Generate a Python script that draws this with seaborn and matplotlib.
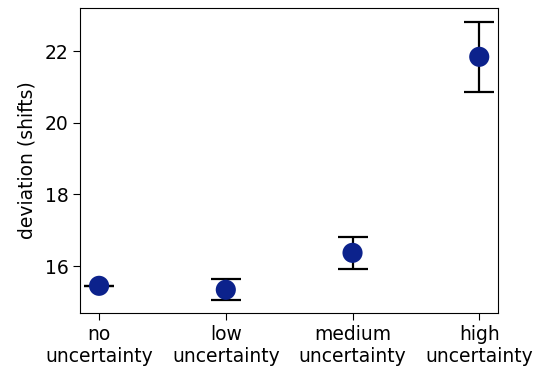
import matplotlib
matplotlib.use('Agg')
import matplotlib.pyplot as plt
import seaborn as sns
import pandas as pd

# values
conditions = ['no\nuncertainty', 'low\nuncertainty', 'medium\nuncertainty', 'high\nuncertainty']
deviation = [15.45, 15.34, 16.37, 21.84]
err = [0.0, 0.29, 0.44, 0.98]

df = pd.DataFrame({'condition': conditions, 'deviation': deviation, 'err': err})

plt.rcParams['font.family'] = ['DejaVu Sans']
fig, ax = plt.subplots(figsize=(5.41, 3.67), dpi=100)
fig.subplots_adjust(left=0.148, right=0.921, top=0.978, bottom=0.147)

ax.errorbar(df['condition'], df['deviation'], yerr=df['err'], fmt='none',
            ecolor='black', elinewidth=1.6, capsize=10.5, capthick=1.6, zorder=2)
sns.scatterplot(data=df, x='condition', y='deviation', s=210, color='#0c228c',
                edgecolor='none', ax=ax, zorder=3)

ax.set_xlim(-0.15, 3.15)
ax.set_ylim(14.69, 23.2)
ax.set_yticks([16, 18, 20, 22])
ax.set_xlabel('')
ax.set_ylabel('deviation (shifts)', fontsize=13.5, labelpad=6)
ax.tick_params(labelsize=13.5, length=5)

plt.savefig('out.png', dpi=100)
